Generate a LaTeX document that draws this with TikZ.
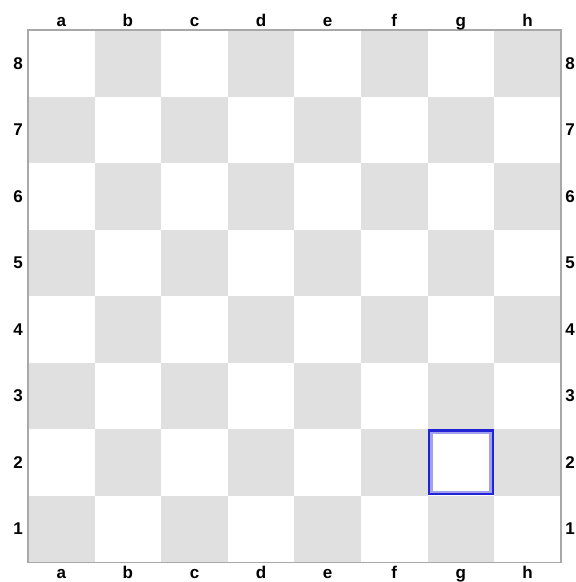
\documentclass[tikz,border=0pt]{standalone}
\usepackage{fontspec}
\setmainfont{Liberation Sans}
\usetikzlibrary{positioning}

\definecolor{darkSquare}{HTML}{E0E0E0}
\definecolor{frameGray}{HTML}{A8A8A8}
\definecolor{markBlue}{HTML}{2323D6}
\definecolor{markBlueLight}{HTML}{A0A0EC}

\begin{document}
\begin{tikzpicture}[
  x=1pt, y=-1pt,
  squareLight/.style={rectangle, fill=white, draw=none, inner sep=0pt,
    minimum width=66.6pt, minimum height=66.5pt},
  squareDark/.style={squareLight, fill=darkSquare},
  coordLabel/.style={font=\bfseries\fontsize{17}{17}\selectfont, inner sep=0pt},
  markBox/.style={rectangle, inner sep=0pt, fill=none},
]
\useasboundingbox (0,0) rectangle (576,582);

% --- board squares ---
\foreach \file [count=\i] in {a,b,c,d,e,f,g,h} {
  \foreach \rank in {1,...,8} {
    \pgfmathtruncatemacro{\parity}{mod(\i+\rank,2)}
    \ifnum\parity=0 \def\sqstyle{squareDark}\else\def\sqstyle{squareLight}\fi
    \node[\sqstyle] (sq-\file\rank) at ({28+(\i-0.5)*66.6},{30+(8.5-\rank)*66.5}) {};
  }
}

% frame round the board
\draw[frameGray, line width=1.4pt] (sq-a8.north west) rectangle (sq-h1.south east);

% --- file letters ---
\foreach \file in {a,b,c,d,e,f,g,h} {
  \node[coordLabel, anchor=base] (top-\file) at (sq-\file8 |- 0,26) {\file};
  \node[coordLabel, anchor=base] (bot-\file) at (sq-\file1 |- 0,578) {\file};
}

% --- rank numbers ---
\foreach \rank in {1,...,8} {
  \node[coordLabel] (left-\rank) at (18,0 |- sq-a\rank) {\rank};
  \node[coordLabel] (right-\rank) at (570,0 |- sq-h\rank) {\rank};
}

% --- marked square ---
\node[markBox, draw=markBlueLight, line width=2.2pt, minimum width=59pt,
  minimum height=59pt] (markInner) at (sq-g2) {};
\node[markBox, draw=markBlue, line width=2.2pt, minimum width=63.5pt,
  minimum height=63.5pt] (markOuter) at (sq-g2) {};

\end{tikzpicture}
\end{document}
